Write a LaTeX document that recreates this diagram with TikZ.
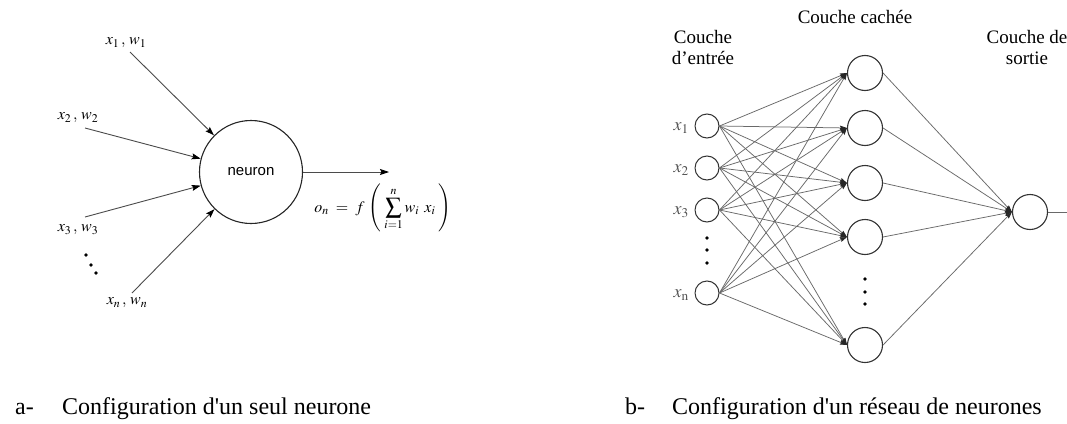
\documentclass[tikz,border=0pt]{standalone}
\usepackage{mathptmx}
\usepackage{fontspec}
\setmainfont{Liberation Serif}
\newfontfamily\arialfont{Liberation Sans}
\usetikzlibrary{arrows.meta}
\definecolor{linegray}{RGB}{75,75,75}
\definecolor{netgray}{RGB}{105,105,105}
\definecolor{labgray}{RGB}{85,85,85}
\begin{document}
\begin{tikzpicture}[x=1pt,y=-1pt,
  neuronbox/.style={circle,draw=black!85,line width=1.1pt,minimum size=103pt,inner sep=0pt,font=\arialfont\fontsize{15}{18}\selectfont},
  inarrow/.style={draw=linegray,line width=0.9pt,-{Stealth[length=9pt,width=6pt,inset=1.5pt,color=black]}},
  wlbl/.style={font=\fontsize{16}{18}\selectfont,inner sep=0pt},
  innode/.style={circle,draw=black!80,line width=1pt,minimum size=24pt,inner sep=0pt},
  hidnode/.style={circle,draw=black!80,line width=1.1pt,minimum size=35pt,inner sep=0pt},
  conn/.style={draw=netgray,line width=0.75pt,-{Stealth[length=7pt,width=4.5pt,inset=1pt,color=black!85]}},
  plain/.style={draw=netgray,line width=0.9pt},
  xlbl/.style={font=\fontsize{18}{20}\selectfont,text=labgray,inner sep=0pt},
  head/.style={font=\fontsize{19}{21}\selectfont,align=center,inner sep=0pt},
  capt/.style={font=\fontsize{24}{28}\selectfont,inner sep=0pt,anchor=base west},
  dotmark/.style={fill=black}
]
\fill[white] (0,0) rectangle (1067,423);
\useasboundingbox (0,0) rectangle (1067,423);

% ---------- left: single neuron ----------
\node[neuronbox] (nrn) at (251,172) {neuron};
\coordinate (c1) at (130,52);
\coordinate (c2) at (85,128);
\coordinate (c3) at (85,217);
\coordinate (c4) at (132,293);
\coordinate (cout) at (389,172);
\draw[inarrow] (c1) -- (nrn);
\draw[inarrow] (c2) -- (nrn);
\draw[inarrow] (c3) -- (nrn);
\draw[inarrow] (c4) -- (nrn);
\draw[inarrow] (nrn.east) -- (cout);
\node[wlbl] (l1) at (126,43) {$x_1\,,\,w_1$};
\node[wlbl] (l2) at (78,118) {$x_2\,,\,w_2$};
\node[wlbl] (l3) at (78,230) {$x_3\,,\,w_3$};
\node[wlbl] (l4) at (127,303) {$x_n\,,\,w_n$};
\fill[dotmark] (86,255) circle (1.8);
\fill[dotmark] (91,265) circle (1.8);
\fill[dotmark] (96,273) circle (1.8);
\node[font=\fontsize{16}{18}\selectfont,inner sep=0pt] (form) at (383,208)
  {$\displaystyle o_n \;=\; f\,\left(\;\sum_{i=1}^{n} w_i\;\, x_i\;\right)$};

% ---------- right: network ----------
\foreach \i/\y in {1/126,2/168,3/210,n/293}
  \node[innode] (i\i) at (707,\y) {};
\foreach \j/\y in {1/73,2/128,3/183,4/237,5/345}
  \node[hidnode] (h\j) at (865,\y) {};
\node[hidnode] (out) at (1030,212) {};
\coordinate (oend) at (1067,212);

\foreach \i in {1,2,3,n}
  \foreach \j in {1,...,5}
    \draw[conn] (i\i.east) -- (h\j.west);
\foreach \j in {1,...,5}
  \draw[conn] (h\j.east) -- (out.west);
\draw[plain] (out.east) -- (oend);

\node[xlbl,anchor=east] (x1) at (689,128) {$x_1$};
\node[xlbl,anchor=east] (x2) at (689,170) {$x_2$};
\node[xlbl,anchor=east] (x3) at (689,212) {$x_3$};
\node[xlbl,anchor=east] (xn) at (689,295) {$x_{\mathrm{n}}$};

\fill[dotmark] (707,238) circle (1.8);
\fill[dotmark] (707,250) circle (1.8);
\fill[dotmark] (707,263) circle (1.8);
\fill[dotmark] (865,279) circle (1.8);
\fill[dotmark] (865,292) circle (1.8);
\fill[dotmark] (865,304) circle (1.8);

\node[head,anchor=base] (hc) at (855,23) {Couche cachée};
\node[head,anchor=north] (he) at (703,30) {Couche\\d’entrée};
\node[head,anchor=north] (hs) at (1027,30) {Couche de\\sortie};

% ---------- captions ----------
\node[capt] (ca) at (15,414) {a-};
\node[capt] (cat) at (62,414) {Configuration d\textquotesingle un seul neurone};
\node[capt] (cb) at (625,414) {b-};
\node[capt] (cbt) at (672,414) {Configuration d\textquotesingle un réseau de neurones};
\end{tikzpicture}
\end{document}
